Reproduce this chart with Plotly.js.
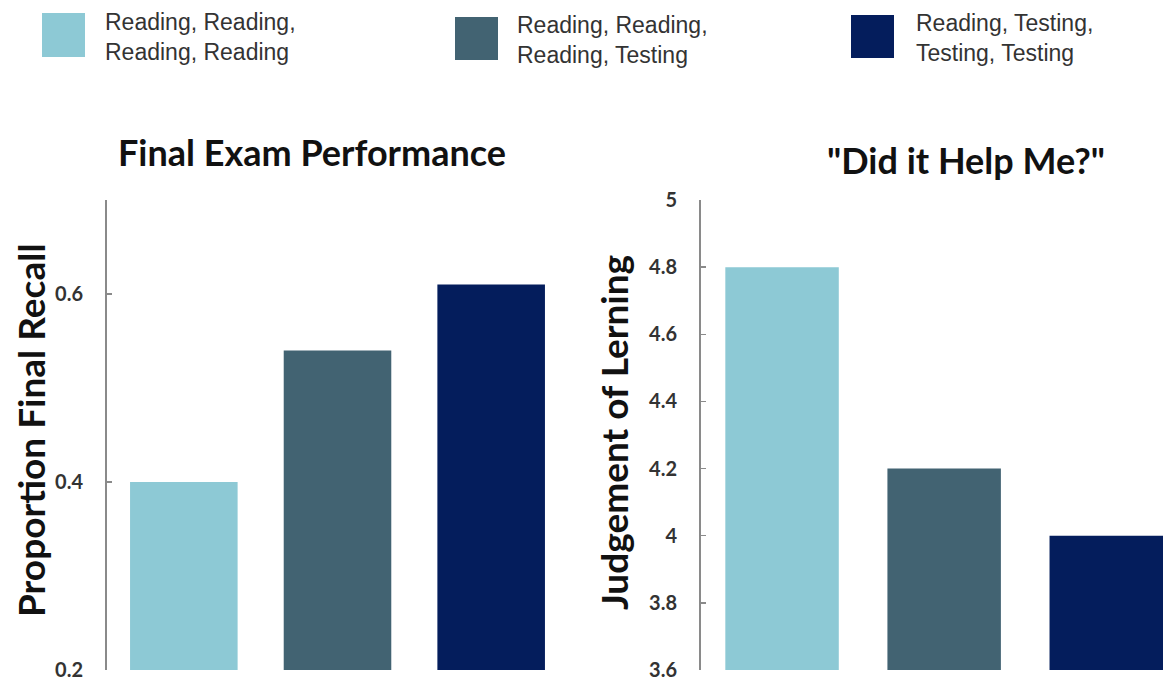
<!DOCTYPE html>
<html>
<head>
<meta charset="utf-8">
<script src="https://cdn.plot.ly/plotly-3.0.1.min.js"></script>
<style>html,body{margin:0;padding:0;background:#fff;}#chart{width:1163px;height:682px;}</style>
</head>
<body>
<div id="chart"></div>
<script>
// ---- data ----
var conditions = ["Reading, Reading, Reading, Reading", "Reading, Reading, Reading, Testing", "Reading, Testing, Testing, Testing"];
var legendLines = ["Reading, Reading,<br>Reading, Reading", "Reading, Reading,<br>Reading, Testing", "Reading, Testing,<br>Testing, Testing"];
var finalRecall = [0.40, 0.54, 0.61];
var judgement = [4.8, 4.2, 4.0];
var recallTicks = [0.2, 0.4, 0.6];
var judgementTicks = [3.6, 3.8, 4, 4.2, 4.4, 4.6, 4.8, 5];
var colors = ["#8DC9D5", "#426372", "#041D5C"];
var leftTitle = "Final Exam Performance";
var rightTitle = "\"Did it Help Me?\"";
var leftYTitle = "Proportion Final Recall";
var rightYTitle = "Judgement of Lerning";

var W = 1163, H = 682;
function px(x){return x / W;}
function py(y){return 1 - y / H;}

var traces = [
  {type: "bar", x: conditions, y: finalRecall, marker: {color: colors}, xaxis: "x", yaxis: "y", hoverinfo: "y", showlegend: false},
  {type: "bar", x: conditions, y: judgement, marker: {color: colors}, xaxis: "x2", yaxis: "y2", hoverinfo: "y", showlegend: false}
];

var boldFont = "Lato, 'Open Sans', sans-serif";
var tickFont = {family: boldFont, size: 20, color: "#333333", weight: "bold"};
var axisCommon = {
  showline: true, linecolor: "#8a8a8a", linewidth: 2,
  ticks: "inside", ticklen: 5, tickwidth: 1.5, tickcolor: "#8a8a8a",
  showgrid: false, zeroline: false, tickfont: tickFont, fixedrange: true
};

var layout = {
  width: W, height: H,
  margin: {l: 0, r: 0, t: 0, b: 0},
  paper_bgcolor: "#ffffff", plot_bgcolor: "#ffffff",
  bargap: 0.3,
  showlegend: false,
  xaxis: {domain: [px(107), px(568)], range: [-0.5, 2.5], showticklabels: false, showline: false, showgrid: false, zeroline: false, ticks: "", fixedrange: true, type: "category"},
  xaxis2: {domain: [px(701), 1], range: [-0.5, 2.35], showticklabels: false, showline: false, showgrid: false, zeroline: false, ticks: "", fixedrange: true, type: "category"},
  yaxis: Object.assign({}, axisCommon, {domain: [py(670), py(200)], range: [0.2, 0.7], tickvals: recallTicks, ticktext: recallTicks.map(function(v){return v.toFixed(1);}), ticklabelstandoff: 18, anchor: "x"}),
  yaxis2: Object.assign({}, axisCommon, {domain: [py(670), py(200)], range: [3.6, 5], tickvals: judgementTicks, ticktext: judgementTicks.map(function(v){return String(v);}), ticklabelstandoff: 18, anchor: "x2"}),
  shapes: [],
  annotations: [
    {text: leftTitle, xref: "paper", yref: "paper", x: px(312), y: py(152), xanchor: "center", yanchor: "middle", showarrow: false, font: {family: boldFont, size: 36, color: "#111111", weight: "bold"}},
    {text: rightTitle, xref: "paper", yref: "paper", x: px(966), y: py(160), xanchor: "center", yanchor: "middle", showarrow: false, font: {family: boldFont, size: 36, color: "#111111", weight: "bold"}},
    {text: leftYTitle, xref: "paper", yref: "paper", x: px(30), y: py(430), xanchor: "center", yanchor: "middle", textangle: -90, showarrow: false, font: {family: boldFont, size: 37, color: "#111111", weight: "bold"}},
    {text: rightYTitle, xref: "paper", yref: "paper", x: px(613), y: py(433), xanchor: "center", yanchor: "middle", textangle: -90, showarrow: false, font: {family: boldFont, size: 37, color: "#111111", weight: "bold"}}
  ]
};

var legendBoxes = [[42, 85, 13, 57], [455, 498, 17, 60], [851, 894, 15, 58]];
var legendTextX = [103, 515, 914];
var legendTextY = [37, 40, 38];
for (var i = 0; i < conditions.length; i++) {
  var b = legendBoxes[i];
  layout.shapes.push({type: "rect", xref: "paper", yref: "paper", x0: px(b[0]), x1: px(b[1]), y0: py(b[3]), y1: py(b[2]), fillcolor: colors[i], line: {width: 0}});
  layout.annotations.push({text: legendLines[i], xref: "paper", yref: "paper", x: px(legendTextX[i]), y: py(legendTextY[i]), xanchor: "left", yanchor: "middle", align: "left", showarrow: false, font: {family: "'Liberation Sans', Arial, sans-serif", size: 23, color: "#333333"}});
}

Plotly.newPlot("chart", traces, layout, {displayModeBar: false, staticPlot: true});
</script>
</body>
</html>
